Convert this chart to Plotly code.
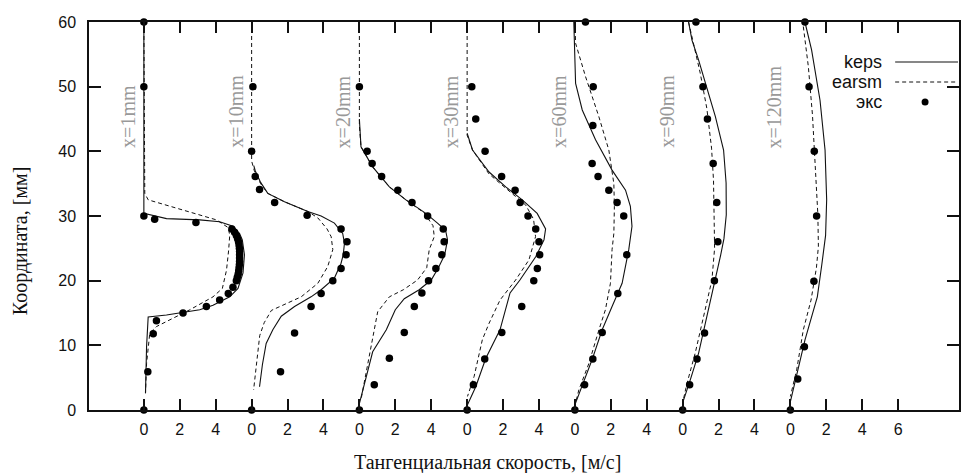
import plotly.graph_objects as go

LABELS = ["x=1mm", "x=10mm", "x=20mm", "x=30mm", "x=60mm", "x=90mm", "x=120mm"]
OFFSET_STEP = 6  # m/s between neighbouring profiles

# keps (solid) — velocity u [m/s] and coordinate y [mm] per profile
KEPS_U = [
    [0, 0, 1.26, 3.11, 4.22, 4.96, 5.33, 5.48, 5.6, 5.52, 5.24, 4.78, 3.85, 3.11, 1.26, 0.24, 0.15, 0.09],
    [0.12, 0.2, 0.5, 0.9, 1.83, 3.13, 3.87, 4.61, 5.07, 5.17, 5.1, 4.98, 4.61, 3.87, 3.31, 2.39, 1.65, 1.18, 0.81, 0.6, 0.44],
    [0, 0.09, 0.74, 1.67, 2.59, 3.7, 4.35, 4.8, 4.91, 4.75, 4.4, 4.0, 3.33, 2.5, 2.0, 1.5, 0.74, 0],
    [0, 0.3, 1.22, 2.15, 3.07, 3.9, 4.37, 4.28, 3.82, 2.94, 2.39, 1.83, 1.04, 0.48, 0.02],
    [-0.06, 0.04, 0.41, 1.15, 2.07, 2.82, 3.09, 3.18, 3.0, 2.63, 2.07, 1.52, 0.96, 0.41, 0],
    [0.33, 0.52, 0.89, 1.26, 1.82, 2.28, 2.42, 2.43, 2.3, 2.12, 1.8, 1.35, 0.89, 0.43, 0],
    [0.81, 1.18, 1.65, 1.93, 2.02, 1.96, 1.75, 1.5, 0.81, 0.35, 0],
]
KEPS_Y = [
    [60, 30.4, 29.6, 29.4, 29.1, 28.4, 27.3, 26.3, 24.0, 21.2, 18.8, 17.5, 16.2, 15.5, 14.7, 14.4, 9.8, 2.6],
    [37.8, 37.0, 35.2, 33.5, 32.2, 30.7, 30.0, 28.9, 27.3, 25.8, 24.0, 22.7, 20.4, 18.6, 17.5, 16.0, 14.5, 12.4, 10.3, 7.0, 3.6],
    [45, 40.7, 37.6, 34.5, 32.5, 30.4, 28.9, 27.8, 26.3, 24.0, 22.0, 20.1, 18.6, 17.2, 15.5, 12.4, 9.0, 1.0],
    [42.8, 40.2, 36.8, 34.5, 32.5, 30.4, 28.0, 26.3, 23.7, 20.1, 18.1, 12.4, 8.0, 3.6, 0.8],
    [60, 50.5, 46.4, 41.8, 37.1, 34.0, 31.5, 28.4, 24.8, 19.6, 16.0, 12.4, 7.8, 3.6, 0.8],
    [60, 57.2, 54.1, 50.5, 45.4, 40.2, 35.1, 30.2, 26.5, 24.0, 20.1, 14.5, 8.8, 4.7, 1.1],
    [60, 55.7, 47.9, 40.2, 32.5, 27.0, 22.5, 17.5, 10.8, 5.2, 1.3],
]

# earsm (dashed)
EARSM_U = [
    [0, 0.05, 0.24, 4.04, 4.7, 4.78, 4.72, 4.6, 4.37, 3.85, 2.56, 1.26, 0.7, 0.33, 0.15, 0.09],
    [0, 0, 0.15, 0.5, 0.9, 1.83, 3.13, 3.69, 4.2, 4.43, 4.52, 4.24, 3.69, 2.76, 1.1, 0.7, 0.45, 0.26, 0.11],
    [0, 0, 0.09, 0.74, 1.67, 2.59, 3.6, 4.1, 4.17, 3.89, 3.75, 3.24, 2.45, 1.67, 1.02, 0.83, 0.46, 0.09],
    [0, 0, 0.3, 1.22, 2.15, 3.26, 3.7, 3.81, 3.44, 2.7, 1.83, 1.22, 0.85, 0.39, 0.02],
    [0, 0.04, 0.6, 1.33, 1.89, 2.17, 2.2, 2.17, 2.07, 1.98, 1.7, 1.35, 0.78, 0.22, 0.04],
    [0.33, 0.98, 1.35, 1.61, 1.72, 1.75, 1.78, 1.63, 1.17, 0.7, 0.24, 0],
    [0.72, 1.0, 1.23, 1.39, 1.53, 1.56, 1.45, 1.15, 0.72, 0.35, 0],
]
EARSM_Y = [
    [60, 33.5, 32.5, 29.4, 28.2, 27.0, 24.7, 21.6, 18.8, 17.5, 15.5, 13.7, 12.9, 11.9, 7.2, 2.6],
    [60, 38.5, 37.0, 35.0, 33.5, 32.2, 30.7, 29.7, 28.0, 26.8, 24.8, 22.2, 19.6, 17.5, 15.4, 13.5, 11.5, 7.2, 3.1],
    [60, 44, 40.7, 37.6, 34.5, 32.5, 30.5, 28.5, 26.8, 24.8, 22.0, 20.1, 18.6, 17.5, 15.2, 12.4, 7.2, 1.6],
    [60, 42.5, 40.2, 36.5, 34.3, 31.7, 29.5, 26.8, 23.2, 20.1, 17.0, 13.4, 10.9, 5.2, 2.1],
    [60, 56.7, 51.5, 45.4, 40.2, 35.0, 31.5, 27.3, 24.8, 19.6, 15.5, 12.5, 7.2, 3.1, 1.1],
    [60, 52.1, 46.6, 40.5, 35.5, 30.0, 25.0, 20.1, 14.5, 8.8, 4.1, 1.1],
    [59.3, 53.1, 45.6, 37.6, 30.2, 25.3, 22.0, 17.0, 12.4, 6.2, 2.1],
]

# experiment (dots)
EXP_U = [
    [0, 0, 0, 0.6, 2.9, 4.9, 5.05, 5.15, 5.22, 5.27, 5.3, 5.32, 5.33, 5.33, 5.33, 5.33, 5.32, 5.3, 5.28,
     5.25, 5.2, 5.15, 4.96, 4.7, 4.22, 3.48, 2.18, 0.7, 0.52, 0.22, 0],
    [0.07, 0, 0.2, 0.44, 1.28, 3.09, 4.98, 5.31, 5.26, 4.98, 4.52, 3.87, 3.31, 2.39, 1.61, 0],
    [0, 0.43, 0.71, 1.24, 2.14, 2.93, 3.8, 4.67, 4.72, 4.59, 4.26, 3.85, 3.48, 3.06, 2.5, 1.67, 0.83, 0],
    [0.26, 0.48, 1.0, 1.92, 2.67, 2.95, 3.39, 3.82, 4.0, 4.04, 3.91, 3.71, 3.04, 1.93, 0.98, 0.35, 0],
    [0.59, 1.02, 1.0, 0.96, 1.29, 1.89, 2.35, 2.72, 2.89, 2.39, 1.52, 1.0, 0.54, 0],
    [0.74, 1.13, 1.38, 1.7, 1.9, 1.96, 1.77, 1.22, 0.8, 0.39, 0],
    [0.81, 1.04, 1.33, 1.46, 1.31, 0.78, 0.41, 0],
]
EXP_Y = [
    [60, 50, 30, 29.5, 29.0, 28.0, 27.5, 27.0, 26.5, 26.0, 25.5, 25.0, 24.5, 24.0, 23.5, 23.0, 22.5, 22.0, 21.5,
     21.0, 20.5, 20.0, 19.0, 18.0, 17.0, 16.0, 15.0, 13.8, 11.8, 5.9, 0],
    [50, 40, 36.1, 34.1, 32.1, 30.1, 28.0, 26.0, 24.0, 21.9, 20.0, 18.0, 16.0, 11.9, 5.9, 0],
    [50, 40, 38.1, 36.1, 34.0, 32.1, 30.0, 28.0, 26.0, 24.0, 21.9, 20.0, 18.1, 16.0, 12.0, 8.0, 3.9, 0],
    [50, 45, 40, 36.1, 34.0, 32.1, 30.0, 28.0, 26.0, 24.0, 21.9, 20.0, 16.0, 12.0, 7.9, 3.9, 0],
    [60, 50, 44.0, 38.1, 36.1, 34.0, 32.1, 30.0, 24.0, 18.0, 12.0, 7.9, 3.9, 0],
    [60, 50, 45, 38.1, 32.1, 26.0, 20.0, 11.9, 7.9, 3.9, 0],
    [60, 50, 40, 30, 19.9, 9.8, 4.8, 0],
]

X_TICKS = list(range(0, 43, 2))
X_TICKTEXT = [str(v % OFFSET_STEP) if v < 36 else str(v - 36) for v in X_TICKS]
Y_TICKS = [0, 10, 20, 30, 40, 50, 60]

# ---------------------------------------------------------------- figure
W, H = 961, 473
ML, MR, MT, MB = 89, 0, 22, 63
PX_PER_UNIT = 18.0
X_MIN = -(144 - ML) / PX_PER_UNIT
X_MAX = X_MIN + (W - ML - MR) / PX_PER_UNIT
PW, PH = W - ML - MR, H - MT - MB


def px(x):
    return (x - ML) / PW


def py(y):
    return (H - MB - y) / PH


fig = go.Figure()
for k in range(len(LABELS)):
    off = k * OFFSET_STEP
    fig.add_trace(go.Scatter(x=[u + off for u in EARSM_U[k]], y=EARSM_Y[k], mode="lines",
                             line=dict(color="#111", width=1, dash="4px,3px"), showlegend=False,
                             hoverinfo="skip"))
    fig.add_trace(go.Scatter(x=[u + off for u in KEPS_U[k]], y=KEPS_Y[k], mode="lines",
                             line=dict(color="#111", width=1.1), showlegend=False, hoverinfo="skip"))
    fig.add_trace(go.Scatter(x=[u + off for u in EXP_U[k]], y=EXP_Y[k], mode="markers",
                             marker=dict(color="#000", size=7.5), showlegend=False, cliponaxis=False))
    fig.add_annotation(x=off - 0.92, y=40.2, text=LABELS[k], textangle=-90, showarrow=False,
                       xanchor="center", yanchor="bottom",
                       font=dict(family="Liberation Serif", size=20, color="#999999"))

# manual legend (text left, symbol right)
leg_font = dict(family="Liberation Sans", size=18, color="#111")
for i, name in enumerate(["keps", "earsm", "экс"]):
    fig.add_annotation(xref="paper", yref="paper", x=px(886), y=py(62 + 20 * i), text=name,
                       showarrow=False, xanchor="right", yanchor="middle", font=leg_font)
fig.add_shape(type="line", xref="paper", yref="paper", x0=px(897), x1=px(960), y0=py(62), y1=py(62),
              line=dict(color="#111", width=1.1))
fig.add_shape(type="line", xref="paper", yref="paper", x0=px(897), x1=px(960), y0=py(82), y1=py(82),
              line=dict(color="#111", width=1, dash="4px,3px"))
fig.add_shape(type="circle", xref="paper", yref="paper", x0=px(923.5), x1=px(930.5), y0=py(98.5),
              y1=py(105.5), fillcolor="#000", line=dict(width=0))

# axis titles
fig.add_annotation(xref="paper", yref="paper", x=px(488), y=py(462), text="Тангенциальная скорость, [м/с]",
                   showarrow=False, xanchor="center", yanchor="middle",
                   font=dict(family="Liberation Serif", size=20, color="#111"))
fig.add_annotation(xref="paper", yref="paper", x=px(20), y=py(241), text="Координата, [мм]", textangle=-90,
                   showarrow=False, xanchor="center", yanchor="middle",
                   font=dict(family="Liberation Serif", size=20, color="#111"))

tick_font = dict(family="Liberation Sans", size=16, color="#111")
fig.update_layout(
    width=W, height=H, margin=dict(l=ML, r=MR, t=MT, b=MB),
    paper_bgcolor="white", plot_bgcolor="white",
    xaxis=dict(range=[X_MIN, X_MAX], tickvals=X_TICKS, ticktext=X_TICKTEXT, ticks="inside", ticklen=11,
               tickwidth=1.5, tickcolor="#111", showline=True, linecolor="#111", linewidth=2,
               mirror="ticks", showgrid=False, zeroline=False, tickfont=tick_font, ticklabelstandoff=4),
    yaxis=dict(range=[0, 60], tickvals=Y_TICKS, ticks="inside", ticklen=12, tickwidth=1.5,
               tickcolor="#111", showline=True, linecolor="#111", linewidth=1.5, mirror="ticks",
               showgrid=False, zeroline=False, tickfont=tick_font, ticklabelstandoff=8),
)

fig.write_html("out.html")
